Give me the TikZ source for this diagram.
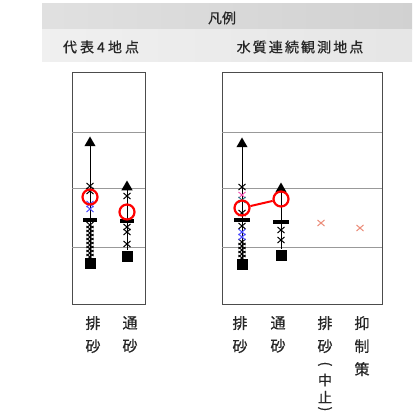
\documentclass[tikz,border=0pt]{standalone}
\usepackage{fontspec}
\newfontfamily\cjk[FakeBold=0.6]{Noto Sans CJK JP}
\usetikzlibrary{shapes.geometric}
\begin{document}
\begin{tikzpicture}[x=1pt,y=-1pt,
  hdr/.style={font=\cjk\fontsize{14}{16}\selectfont, text=black!85, inner sep=0pt},
  vlab/.style={font=\cjk\fontsize{15}{23}\selectfont, align=center, text=black!85, inner sep=0pt, anchor=north},
  vch/.style={font=\cjk\fontsize{14}{16}\selectfont, text=black!85, inner sep=0pt},
  vpar/.style={font=\cjk\fontsize{14}{16}\selectfont, text=black!85, inner sep=0pt, rotate=-90},
  frame/.style={draw=black!70, line width=0.8pt},
  grid/.style={draw=black!40, line width=0.7pt},
  tri/.style={regular polygon, regular polygon sides=3, fill=black, inner sep=0pt, minimum size=13pt},
  sq/.style={rectangle, fill=black, inner sep=0pt, minimum size=11pt},
  ring/.style={circle, draw=red, line width=2.2pt, inner sep=0pt, minimum size=15pt},
  stem/.style={draw=black, line width=1pt},
  bar/.style={draw=black, line width=3.2pt},
  xm/.style={draw=black, line width=1pt},
  pinkx/.style={draw=red!50!brown!60, line width=1pt}
]
\useasboundingbox (0,0) rectangle (417,414);
% header bands
\shade[left color=black!12, right color=black!18] (42,4) rectangle (412,30);
\shade[left color=black!6, right color=black!10] (42,30) rectangle (412,62);
\node[hdr] (legend) at (222,18) {凡例};
\node[hdr] (rep) at (101,47) {\addfontfeature{LetterSpace=22}代表4地点};
\node[hdr] (cont) at (300,47) {\addfontfeature{LetterSpace=15}水質連続観測地点};
% frames
\node[frame, minimum width=73pt, minimum height=232pt, inner sep=0pt, fill=white] (boxL) at (108.5,188) {};
\node[frame, minimum width=160pt, minimum height=232pt, inner sep=0pt, fill=white] (boxR) at (302,188) {};
\foreach \yy in {132,188,247}{
  \draw[grid] ([xshift=0.4pt]boxL.west |- 0,\yy) -- ([xshift=-0.4pt]boxL.east |- 0,\yy);
  \draw[grid] ([xshift=0.4pt]boxR.west |- 0,\yy) -- ([xshift=-0.4pt]boxR.east |- 0,\yy);
}
% cross macro
\def\xmark#1#2#3{\draw[#3] (#1-3.5,#2-3) -- (#1+3.5,#2+3) (#1-3.5,#2+3) -- (#1+3.5,#2-3);}
% ---- left box column 1
\node[tri] (l1t) at (90,143) {};
\node[sq] (l1s) at (90,263) {};
\draw[stem] (l1t) -- (l1s);
\foreach \yy in {186,191}{\xmark{90}{\yy}{xm}}
\foreach \yy in {204,209}{\xmark{90}{\yy}{draw=blue!70, line width=1pt}}
\foreach \yy in {225,229,233,237,241,245,249,253,257}{\xmark{90}{\yy}{xm}}
\draw[bar] (83,220) -- (97,220);
\node[ring] (l1c) at (90,197) {};
% ---- left box column 2
\node[tri] (l2t) at (127,187) {};
\node[sq] (l2s) at (127,256) {};
\draw[stem] (l2t) -- (l2s);
\foreach \yy in {196,227,232,244}{\xmark{127}{\yy}{xm}}
\draw[bar] (120,221) -- (134,221);
\node[ring] (l2c) at (127,212) {};
% ---- right box column 1
\node[tri] (r1t) at (242,144) {};
\node[sq] (r1s) at (242,264) {};
\draw[stem] (r1t) -- (r1s);
\xmark{242}{187}{xm}
\xmark{242}{195}{draw=magenta!70, line width=0.9pt}
\xmark{242}{200}{draw=teal, line width=0.9pt}
\foreach \yy in {213,226,242,246,250,254,258}{\xmark{242}{\yy}{xm}}
\foreach \yy in {232,237}{\xmark{242}{\yy}{draw=blue!70, line width=1pt}}
\draw[bar] (234,220) -- (250,220);
% ---- right box column 2
\node[tri] (r2t) at (281,189) {};
\node[sq] (r2s) at (281,255) {};
\draw[stem] (r2t) -- (r2s);
\foreach \yy in {230,240}{\xmark{281}{\yy}{xm}}
\draw[bar] (273,222) -- (289,222);
\node[ring] (r1c) at (242,208) {};
\node[ring] (r2c) at (281,199) {};
\draw[draw=red, line width=2pt] (r1c) -- (r2c);
% pink crosses
\xmark{321}{223}{pinkx}
\xmark{360}{228}{pinkx}
% bottom labels
\node[vlab] (a1) at (93,316) {排\\砂};
\node[vlab] (a2) at (130,316) {通\\砂};
\node[vlab] (b1) at (240,316) {排\\砂};
\node[vlab] (b2) at (278,316) {通\\砂};
\node[vlab] (b3) at (325,316) {排\\砂};
\node[vpar] (b3p) at (325,364) {(};
\node[vch] (b3c) at (325,380) {中};
\node[vch] (b3d) at (325,397) {止};
\node[vpar] (b3q) at (325,409) {)};
\node[vlab] (b4) at (362,316) {抑\\制\\策};
\end{tikzpicture}
\end{document}
